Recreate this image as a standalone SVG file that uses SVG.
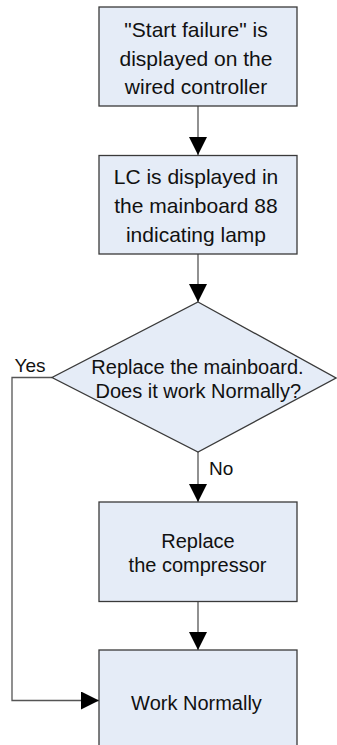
<svg xmlns="http://www.w3.org/2000/svg" width="337" height="745" viewBox="0 0 337 745">
<style>
.box{fill:#E5ECF7;stroke:#3a3a3a;stroke-width:1.3}
.t{font-family:"Liberation Sans",Arial,sans-serif;fill:#111;text-anchor:middle}
.lbl{font-family:"Liberation Sans",Arial,sans-serif;fill:#111;font-size:19px}
.c{fill:none;stroke:#555;stroke-width:1.3}
</style>
<defs>
<marker id="ah" viewBox="0 0 18 18" refX="18" refY="9" markerWidth="18" markerHeight="18" markerUnits="userSpaceOnUse" orient="auto">
<path d="M0,0 L18,9 L0,18 z" fill="#000"/>
</marker>
</defs>
<g id="connectors">
<line class="c" x1="198" y1="106" x2="198" y2="155" marker-end="url(#ah)"/>
<line class="c" x1="198" y1="254" x2="198" y2="302" marker-end="url(#ah)"/>
<line class="c" x1="198" y1="452" x2="198" y2="502" marker-end="url(#ah)"/>
<line class="c" x1="198" y1="602" x2="198" y2="650" marker-end="url(#ah)"/>
<polyline class="c" points="52,377.5 12,377.5 12,700.5 99,700.5" marker-end="url(#ah)"/>
<text class="lbl" x="14.5" y="371.5">Yes</text>
<text class="lbl" x="209" y="475">No</text>
</g>
<g id="n1">
<rect class="box" x="99" y="7" width="198" height="99"/>
<text class="t" font-size="21" x="196" y="37">"Start failure" is</text>
<text class="t" font-size="21" x="196" y="65.5">displayed on the</text>
<text class="t" font-size="21" x="196" y="94">wired controller</text>
</g>
<g id="n2">
<rect class="box" x="99" y="155.5" width="198" height="98.5"/>
<text class="t" font-size="21" x="196" y="183.5">LC is displayed in</text>
<text class="t" font-size="21" x="196" y="213">the mainboard 88</text>
<text class="t" font-size="21" x="196" y="242">indicating lamp</text>
</g>
<g id="n3">
<polygon class="box" points="198,302 336,378 198,452 52,377.5"/>
<text class="t" font-size="20" x="197.5" y="373.5">Replace the mainboard.</text>
<text class="t" font-size="20" x="198.3" y="397.5">Does it work Normally?</text>
</g>
<g id="n4">
<rect class="box" x="99" y="502" width="198" height="99.5"/>
<text class="t" font-size="20" x="198" y="547.5">Replace</text>
<text class="t" font-size="20" x="197.5" y="571.5">the compressor</text>
</g>
<g id="n5">
<rect class="box" x="99" y="650" width="198" height="99"/>
<text class="t" font-size="20" x="196.5" y="710">Work Normally</text>
</g>
</svg>
